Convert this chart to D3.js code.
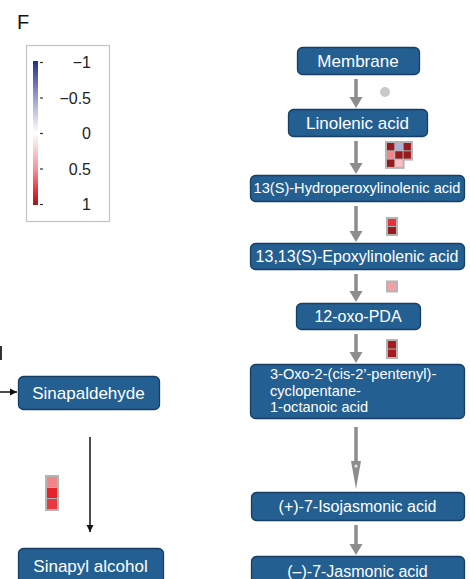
<!DOCTYPE html>
<html lang="en">
<head>
<meta charset="utf-8">
<title>Jasmonate pathway</title>
<script src="https://cdn.jsdelivr.net/npm/d3@7"></script>
<style>
  body { margin: 0; background: #fff; }
  svg { display: block; font-family: "Liberation Sans", Arial, sans-serif; }
</style>
</head>
<body>
<div id="graph"></div>
<script>
    // pathway nodes (right column) and the two side-branch nodes
    var rightNodes = ["Membrane", "Linolenic acid", "13(S)-Hydroperoxylinolenic acid",
        "13,13(S)-Epoxylinolenic acid", "12-oxo-PDA",
        ["3-Oxo-2-(cis-2\u2019-pentenyl)-", "cyclopentane-", "1-octanoic acid"],
        "(+)-7-Isojasmonic acid", "(\u2013)-7-Jasmonic acid"];
    var leftNodes = ["Sinapaldehyde", "Sinapyl alcohol"];

    // expression values (log ratio, -1..1) next to each step; null = no gene
    var heat1 = [[1, -0.4, 1], [0.55, 1, 1], [1, 0.3, null]];
    var heat2 = [[0.8], [1]];
    var heat3 = [[0.45]];
    var heat4 = [[0.97], [0.97]];
    var heatLeft = [[0.55], [0.85], [0.78]];

    var legendTicks = [-1, -0.5, 0, 0.5, 1];
    var legendLabels = ["\u22121", "\u22120.5", "0", "0.5", "1"];

    var w = 470, h = 579;
    var boxFill = "#245f92", boxStroke = "#173e63", arrowGrey = "#8d8d8d";

    var color = d3.scaleLinear()
        .domain([-1, -0.5, 0, 0.5, 0.85, 1])
        .range(["#1c2f8e", "#9a9ccf", "#ffffff", "#f2959a", "#e3222a", "#961a1e"]);

    // box geometry for each node [x, y, width, height, fontSize]
    var rightBoxes = [
        [297, 47, 122, 27, 17],
        [288, 109, 139, 27, 17],
        [250, 175, 214, 26, 14.6],
        [250, 243, 214, 26, 16],
        [296, 303, 124, 26, 16],
        [250, 364, 214, 54, 14.6],
        [251, 492, 213, 28, 16],
        [251, 556, 213, 30, 16]
    ];
    var leftBoxes = [
        [18, 376, 141, 33, 17],
        [18, 548, 145, 36, 17]
    ];

    var svg = d3.select("#graph").append("svg")
        .attr("width", w).attr("height", h);

    var defs = svg.append("defs");
    defs.append("marker").attr("id", "blackHead")
        .attr("viewBox", "0 0 10 10").attr("refX", 10).attr("refY", 5)
        .attr("markerWidth", 5).attr("markerHeight", 5)
        .attr("markerUnits", "strokeWidth").attr("orient", "auto")
        .append("path").attr("d", "M0,0L10,5L0,10Z").attr("fill", "#111");

    // panel letter
    svg.append("text").attr("x", 17).attr("y", 29)
        .attr("font-size", "20px").attr("fill", "#111").text("F");

    // ---- legend ----
    svg.append("rect").attr("x", 26.5).attr("y", 45.5).attr("width", 83).attr("height", 176)
        .attr("fill", "#fff").attr("stroke", "#c4c4c4").attr("stroke-width", 1.2);

    var legendY = d3.scaleLinear().domain([-1, 1]).range([62, 204]);
    var grad = defs.append("linearGradient").attr("id", "legendGrad")
        .attr("x1", 0).attr("y1", 0).attr("x2", 0).attr("y2", 1);
    d3.range(0, 1.0001, 0.05).forEach(function (t) {
        grad.append("stop").attr("offset", t).attr("stop-color", color(-1 + 2 * t));
    });
    svg.append("rect").attr("x", 33).attr("y", legendY(-1) - 1)
        .attr("width", 5).attr("height", legendY(1) - legendY(-1) + 2)
        .attr("fill", "url(#legendGrad)");

    var legendAxis = d3.axisRight(legendY).tickValues(legendTicks).tickSize(0)
        .tickFormat(function (d, i) { return legendLabels[i]; });
    var lg = svg.append("g").attr("transform", "translate(39,0)").call(legendAxis);
    lg.select(".domain").remove();
    lg.selectAll(".tick").append("line")
        .attr("x1", 1).attr("x2", 4).attr("stroke", "#333").attr("stroke-width", 1.2);
    lg.selectAll(".tick text").attr("x", 52).attr("text-anchor", "end")
        .attr("font-size", "16px").attr("font-family", "Liberation Sans, Arial, sans-serif")
        .attr("fill", "#222").attr("dy", "0.35em");

    // ---- grey arrows between right-column boxes ----
    function greyArrow(x, y0, y1, headLen, headW) {
        svg.append("line").attr("x1", x).attr("x2", x).attr("y1", y0).attr("y2", y1 - headLen + 1)
            .attr("stroke", arrowGrey).attr("stroke-width", 3.5);
        svg.append("path")
            .attr("d", "M" + (x - headW / 2) + "," + (y1 - headLen) + "L" + (x + headW / 2) + "," +
                (y1 - headLen) + "L" + x + "," + y1 + "Z")
            .attr("fill", arrowGrey);
    }
    var ax = 356;
    for (var i = 0; i < rightBoxes.length - 1; i++) {
        var yStart = rightBoxes[i][1] + rightBoxes[i][3] + 5;
        var yEnd = rightBoxes[i + 1][1] - 1;
        if (i === 5) {
            greyArrow(ax, yStart + 4, yEnd - 2, 28, 10);
            svg.append("circle").attr("cx", ax).attr("cy", 466).attr("r", 1.6).attr("fill", "#e6e6e6");
        } else {
            greyArrow(ax, yStart, yEnd, 11, 13);
        }
    }

    // ---- boxes ----
    function drawBox(label, b) {
        var g = svg.append("g");
        g.append("rect").attr("x", b[0] + 0.5).attr("y", b[1] + 0.5)
            .attr("width", b[2]).attr("height", b[3]).attr("rx", 5)
            .attr("fill", boxFill).attr("stroke", boxStroke).attr("stroke-width", 1.3);
        if (Array.isArray(label)) {
            var lines = d3.scaleLinear().domain([0, label.length - 1]).range([b[1] + 15, b[1] + 48]);
            label.forEach(function (t, i) {
                g.append("text").attr("x", b[0] + 20).attr("y", lines(i))
                    .attr("font-size", b[4] + "px").attr("fill", "#fff").text(t);
            });
        } else {
            g.append("text").attr("x", b[0] + b[2] / 2).attr("y", b[1] + b[3] / 2)
                .attr("dy", "0.36em").attr("text-anchor", "middle")
                .attr("font-size", b[4] + "px").attr("fill", "#fff").text(label);
        }
    }
    rightNodes.forEach(function (n, i) { drawBox(n, rightBoxes[i]); });
    leftNodes.forEach(function (n, i) { drawBox(n, leftBoxes[i]); });

    // ---- black arrows on the left ----
    svg.append("line").attr("x1", 0).attr("x2", 17).attr("y1", 392).attr("y2", 392)
        .attr("stroke", "#111").attr("stroke-width", 1.5).attr("marker-end", "url(#blackHead)");
    svg.append("line").attr("x1", 90).attr("x2", 90).attr("y1", 437).attr("y2", 532)
        .attr("stroke", "#111").attr("stroke-width", 1.5).attr("marker-end", "url(#blackHead)");
    svg.append("rect").attr("x", 0).attr("y", 346).attr("width", 2).attr("height", 14).attr("fill", "#333");

    // grey dot: no gene on this step
    svg.append("circle").attr("cx", 385).attr("cy", 92).attr("r", 5).attr("fill", "#c9c9c9");

    // ---- heatmaps ----
    function heatmap(values, x0, y0, cw, ch) {
        var rows = values.length, cols = values[0].length;
        var xs = d3.scaleBand().domain(d3.range(cols)).range([x0, x0 + cols * cw]);
        var ys = d3.scaleBand().domain(d3.range(rows)).range([y0, y0 + rows * ch]);
        var cells = [];
        values.forEach(function (row, r) {
            row.forEach(function (v, c) { if (v !== null) cells.push({ r: r, c: c, v: v }); });
        });
        var g = svg.append("g");
        g.selectAll(".bg").data(cells).enter().append("rect")
            .attr("x", function (d) { return xs(d.c) - 1.5; })
            .attr("y", function (d) { return ys(d.r) - 1.5; })
            .attr("width", cw + 3).attr("height", ch + 3).attr("fill", "#b4b4b4");
        g.selectAll(".cell").data(cells).enter().append("rect")
            .attr("x", function (d) { return xs(d.c) + 0.5; })
            .attr("y", function (d) { return ys(d.r) + 0.5; })
            .attr("width", cw - 1).attr("height", ch - 1)
            .attr("fill", function (d) { return color(d.v); });
    }
    heatmap(heat1, 386.5, 142.5, 8.3, 8.3);
    heatmap(heat2, 387.5, 218.5, 9, 8);
    heatmap(heat3, 387.5, 282, 9, 9);
    heatmap(heat4, 387.5, 340.5, 9, 8.5);
    heatmap(heatLeft, 46.5, 476.5, 11, 11);
</script>
</body>
</html>
